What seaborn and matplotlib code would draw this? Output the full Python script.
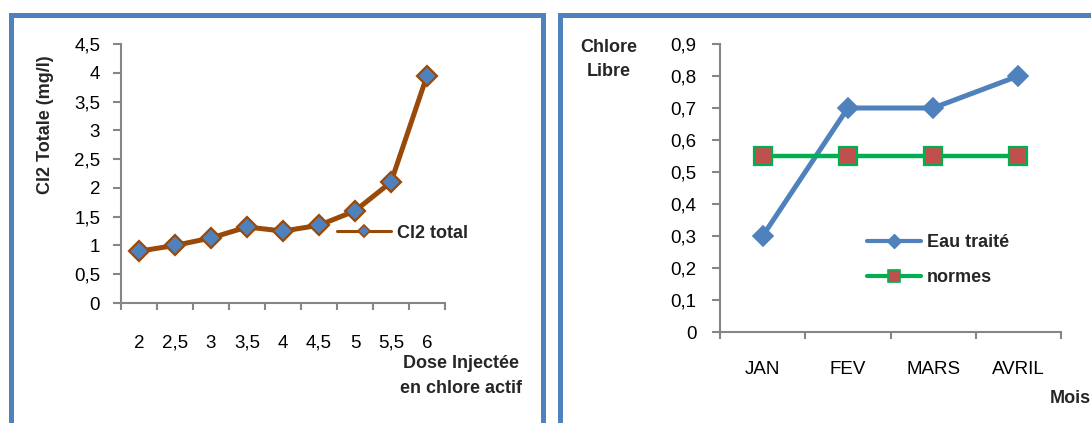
import matplotlib
matplotlib.use("Agg")
import matplotlib.pyplot as plt
import seaborn as sns
import numpy as np
import pandas as pd
from matplotlib.patches import Rectangle
from matplotlib.lines import Line2D
from matplotlib.ticker import FixedLocator, FuncFormatter

# ---------------- data ----------------
doses = ["2", "2,5", "3", "3,5", "4", "4,5", "5", "5,5", "6"]
cl2_total = [0.9, 1.0, 1.13, 1.32, 1.25, 1.35, 1.6, 2.1, 3.95]

months = ["JAN", "FEV", "MARS", "AVRIL"]
eau_traite = [0.3, 0.7, 0.7, 0.8]
normes = [0.55, 0.55, 0.55, 0.55]

left_yticks = [0, 0.5, 1, 1.5, 2, 2.5, 3, 3.5, 4, 4.5]
right_yticks = [0, 0.1, 0.2, 0.3, 0.4, 0.5, 0.6, 0.7, 0.8, 0.9]

# ---------------- style ----------------
sns.set_theme(style="white")
plt.rcParams["font.family"] = ["Liberation Sans", "DejaVu Sans"]

BROWN = "#9A4A08"
BLUE = "#4F81BD"
GREEN = "#00B050"
RED = "#C0504D"
GREY = "#868686"
TICKFONT = ["Liberation Sans", "DejaVu Sans"]
TICKSIZE = 13.5

W, H = 1091, 423
fig = plt.figure(figsize=(W / 100, H / 100), dpi=100)
fig.patch.set_facecolor("white")


def fx(px):
    return px / W


def fy(py):
    return 1 - py / H


# frames
fig.add_artist(Rectangle((fx(10.5), -0.2), fx(542.5 - 10.5), fy(15) + 0.2,
                         transform=fig.transFigure, fill=False,
                         edgecolor=BLUE, lw=3.6, clip_on=False))
fig.add_artist(Rectangle((fx(559.5), -0.2), 0.6, fy(15) + 0.2,
                         transform=fig.transFigure, fill=False,
                         edgecolor=BLUE, lw=3.6, clip_on=False))


def comma(v, p=None):
    return f"{round(v, 2):g}".replace(".", ",")


def style_axes(ax, n, labels, yticks, ypad, xpad):
    for s in ["top", "right"]:
        ax.spines[s].set_visible(False)
    for s in ["left", "bottom"]:
        ax.spines[s].set_color(GREY)
        ax.spines[s].set_linewidth(1.5)
    ax.set_xlim(-0.5, n - 0.5)
    ax.xaxis.set_major_locator(FixedLocator(list(range(n))))
    ax.set_xticklabels(labels)
    ax.xaxis.set_minor_locator(FixedLocator(list(np.arange(-0.5, n, 1.0))))
    ax.tick_params(axis="x", which="major", length=0, pad=xpad,
                   labelsize=TICKSIZE, labelcolor="black")
    ax.tick_params(axis="x", which="minor", length=5, width=1.5,
                   color=GREY, direction="out", bottom=True)
    ax.yaxis.set_major_locator(FixedLocator(yticks))
    ax.yaxis.set_major_formatter(FuncFormatter(comma))
    ax.tick_params(axis="y", length=6, width=1.5, color=GREY, pad=ypad,
                   labelsize=TICKSIZE, labelcolor="black", left=True)
    for t in ax.get_xticklabels() + ax.get_yticklabels():
        t.set_fontfamily(TICKFONT)
    ax.set_xlabel("")
    ax.set_ylabel("")
    ax.set_facecolor("none")


# ---------------- left chart ----------------
ax1 = fig.add_axes([fx(121), fy(303), fx(445 - 121), (303 - 44) / H])
df1 = pd.DataFrame({"pos": np.arange(len(doses)), "val": cl2_total})
sns.lineplot(data=df1, x="pos", y="val", ax=ax1, color=BROWN, lw=3.6,
             marker="D", markersize=10.5, markerfacecolor=BLUE,
             markeredgecolor=BROWN, markeredgewidth=1.6, legend=False,
             clip_on=False)
ax1.set_ylim(0, 4.5)
style_axes(ax1, len(doses), doses, left_yticks, ypad=9, xpad=23)

fig.text(fx(46), fy(125), "Cl2 Totale (mg/l)", rotation=90, ha="center",
         va="center", fontsize=13, fontweight="bold")
fig.text(fx(461), fy(363), "Dose Injectée", ha="center", va="center",
         fontsize=13, fontweight="bold")
fig.text(fx(461), fy(388), "en chlore actif", ha="center", va="center",
         fontsize=13, fontweight="bold")

h1 = Line2D([], [], color=BROWN, lw=2.2, marker="D", markersize=6,
            markerfacecolor=BLUE, markeredgecolor=BROWN, markeredgewidth=1.2)
fig.legend(handles=[h1], labels=["Cl2 total"], loc="center left",
           bbox_to_anchor=(fx(337), fy(233)), bbox_transform=fig.transFigure,
           frameon=False, borderpad=0, borderaxespad=0, handlelength=3.0,
           handletextpad=0.35, prop={"weight": "bold", "size": 13})

# ---------------- right chart ----------------
ax2 = fig.add_axes([fx(720), fy(332), fx(1061 - 720), (332 - 44) / H])
df2 = pd.DataFrame({"pos": np.arange(len(months)), "eau": eau_traite,
                    "normes": normes})
sns.lineplot(data=df2, x="pos", y="eau", ax=ax2, color=BLUE, lw=3.6,
             marker="D", markersize=10, markerfacecolor=BLUE,
             markeredgecolor=BLUE, markeredgewidth=1.2, legend=False,
             clip_on=False)
sns.lineplot(data=df2, x="pos", y="normes", ax=ax2, color=GREEN, lw=3.2,
             marker="s", markersize=13.5, markerfacecolor=RED,
             markeredgecolor=GREEN, markeredgewidth=1.6, legend=False,
             clip_on=False)
ax2.set_ylim(0, 0.9)
style_axes(ax2, len(months), months, right_yticks, ypad=11, xpad=21)

fig.text(fx(609), fy(47), "Chlore", ha="center", va="center",
         fontsize=13, fontweight="bold")
fig.text(fx(609), fy(72), "Libre", ha="center", va="center",
         fontsize=13, fontweight="bold")
fig.text(fx(1050), fy(398), "Mois", ha="left", va="center",
         fontsize=13, fontweight="bold")

h2 = Line2D([], [], color=BLUE, lw=3, marker="D", markersize=7.5,
            markerfacecolor=BLUE, markeredgecolor=BLUE)
h3 = Line2D([], [], color=GREEN, lw=3, marker="s", markersize=8.5,
            markerfacecolor=RED, markeredgecolor=GREEN, markeredgewidth=1.2)
fig.legend(handles=[h2, h3], labels=["Eau traité", "normes"],
           loc="upper left", bbox_to_anchor=(fx(867), fy(234)),
           bbox_transform=fig.transFigure, frameon=False, borderpad=0,
           borderaxespad=0, handlelength=3.0, handletextpad=0.3,
           labelspacing=1.0, prop={"weight": "bold", "size": 13})

fig.savefig("out.png", dpi=100, facecolor="white")
